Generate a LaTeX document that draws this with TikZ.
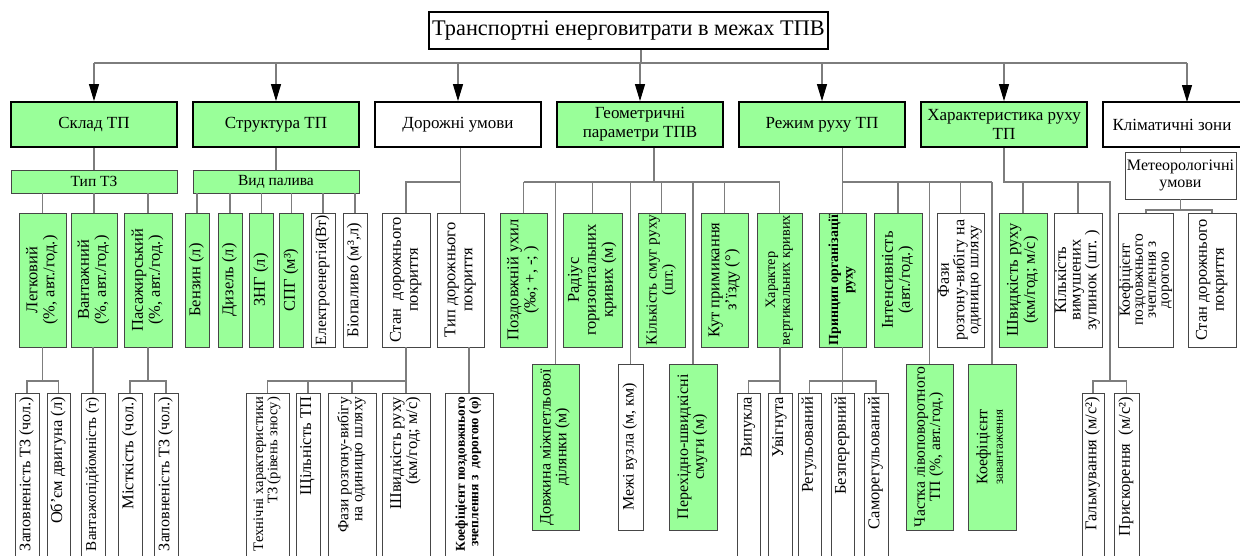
\documentclass[tikz,border=0pt]{standalone}
\usepackage{graphicx}
\usepackage{fontspec}
\setmainfont{Liberation Serif}
\usetikzlibrary{arrows.meta,calc}
\definecolor{gr}{RGB}{153,255,153}
\definecolor{lg}{RGB}{125,125,125}
\definecolor{bd}{RGB}{70,70,70}
\newcommand{\fs}[2]{\fontsize{#1}{#2}\selectfont}
\newsavebox\fitbox
\newcommand{\fitw}[2]{\sbox\fitbox{#2}\ifdim\wd\fitbox>#1\relax\resizebox{#1}{!}{\usebox\fitbox}\else\usebox\fitbox\fi}
\newcommand{\tabc}[1]{\begin{tabular}{@{}c@{}}#1\end{tabular}}
\newcommand{\tabr}[1]{\begin{tabular}{@{}r@{}}#1\end{tabular}}
\newcommand{\Lthree}[1]{\fitw{130pt}{\tabc{#1}}}
\newcommand{\Lfour}[1]{\fitw{160pt}{\tabc{#1}}}
\newcommand{\Lcut}[1]{\makebox[219pt][r]{\fitw{154pt}{\tabr{#1}}}}
\tikzset{
 ln/.style={draw=lg, line width=1.1pt},
 arr/.style={ln, -{Triangle[length=17pt,width=10pt,color=black]}},
 topbox/.style={draw=black, line width=1.8pt, minimum width=166pt, minimum height=45pt, align=center, inner sep=1pt, font=\fs{17}{19}},
 sbox/.style={draw=bd, line width=0.8pt, align=center, inner sep=1pt},
 vt/.style={sbox, rotate=90, font=\fs{16.5}{17}},
 l3/.style={vt, minimum width=134pt},
 l4/.style={vt, minimum width=166pt, font=\fs{16}{15.5}},
 l4c/.style={vt, inner xsep=4pt, font=\fs{16.5}{15.5}},
 g/.style={fill=gr},
 w/.style={fill=white},
}
\begin{document}
\begin{tikzpicture}[x=1pt,y=-1pt]
\useasboundingbox (0,0) rectangle (1240,555);
\clip (0,0) rectangle (1240,555);
\fill[white] (0,0) rectangle (1240,555);
% root
\node[draw=black, line width=1.8pt, minimum width=399pt, minimum height=37pt, inner sep=1pt, font=\fs{22.3}{25}] (root) at (628.5,30.5) {Транспортні енерговитрати в межах ТПВ};
% level 1
\node[topbox,g] (skl) at (94,124.5) {Склад ТП};
\node[topbox,g] (str) at (276,124.5) {Структура ТП};
\node[topbox,w] (dor) at (458,124.5) {Дорожні умови};
\node[topbox,g] (geo) at (640,124.5) {Геометричні\\параметри ТПВ};
\node[topbox,g] (rez) at (822,124.5) {Режим руху ТП};
\node[topbox,g] (har) at (1004,124.5) {Характеристика руху\\ТП};
\node[topbox,w,minimum width=138pt] (klim) at (1172,124.5) {Кліматичні зони};
% level 2
\node[sbox,g,minimum width=166pt,minimum height=23pt,font=\fs{15.5}{17}] (tipz) at (94,181.5) {Тип ТЗ};
\node[sbox,g,minimum width=166pt,minimum height=23pt,font=\fs{15.5}{17}] (vid) at (276,181.5) {Вид палива};
\node[sbox,w,minimum width=111pt,minimum height=47pt,font=\fs{16}{17}] (meteo) at (1180.5,175.5) {Метеорологічні\\умови};
% level 3
\node[l3,g,minimum height=47pt] (legk) at (42.5,280) {\Lthree{Легковий\\(\%, авт./год.)}};
\node[l3,g,minimum height=46pt] (vant) at (94,280) {\Lthree{Вантажний\\(\%, авт./год.)}};
\node[l3,g,minimum height=48pt] (pas) at (148,280) {\Lthree{Пасажирський\\(\%, авт./год.)}};
\node[l3,g,minimum height=24pt] (benz) at (197,280) {\Lthree{Бензин (л)}};
\node[l3,g,minimum height=24pt] (diz) at (230,280) {\Lthree{Дизель (л)}};
\node[l3,g,minimum height=24pt] (zng) at (261.5,280) {\Lthree{ЗНГ (л)}};
\node[l3,g,minimum height=24pt] (spg) at (291.5,280) {\Lthree{СПГ (м³)}};
\node[l3,w,minimum height=24pt] (elek) at (323,280) {\Lthree{Електроенергія(Вт)}};
\node[l3,w,minimum height=24pt] (bio) at (355,280) {\Lthree{Біопаливо (м³,л)}};
\node[l3,w,minimum height=48pt] (stan) at (406,280) {\Lthree{Стан\ \ дорожнього\\покриття}};
\node[l3,w,minimum height=47pt] (tipd) at (460.5,280) {\Lthree{Тип дорожнього\\покриття}};
\node[l3,g,minimum height=47pt] (pozd) at (523.5,280) {\Lthree{Поздовжній ухил\\(‰; +, -; )}};
\node[l3,g,minimum height=59pt] (rad) at (592.5,280) {\Lthree{Радіус\\горизонтальних\\кривих (м)}};
\node[l3,g,minimum height=47pt] (kils) at (661.5,280) {\Lthree{Кількість смуг руху\\(шт.)}};
\node[l3,g,minimum height=47pt] (kut) at (724.5,280) {\Lthree{Кут примикання\\з’їзду (°)}};
\node[l3,g,minimum height=45pt] (hark) at (779.5,280) {\Lthree{Характер\\вертикальних кривих}};
\node[l3,g,minimum height=47pt,font=\bfseries\fs{16.5}{17}] (princ) at (842.5,280) {\Lthree{Принцип організації\\руху}};
\node[l3,g,minimum height=48pt] (intens) at (898,280) {\Lthree{Інтенсивність\\(авт./год.)}};
\node[l3,w,minimum height=47pt,font=\fs{16}{14}] (fazy) at (960.5,280) {\Lthree{Фази\\розгону-вибігу на\\одиницю шляху}};
\node[l3,g,minimum height=48pt] (shv) at (1023,280) {\Lthree{Швидкість руху\\(км/год; м/с)}};
\node[l3,w,minimum height=48pt,font=\fs{16.5}{14.5}] (kilv) at (1078,280) {\Lthree{Кількість\\вимушених\\зупинок (шт. )}};
\node[l3,w,minimum height=52pt,font=\fs{15.5}{13}] (koef) at (1146,280) {\Lthree{Коефіцієнт\\поздовжнього\\зчеплення з\\дорогою}};
\node[l3,w,minimum height=48pt] (stanr) at (1212,280) {\Lthree{Стан дорожнього\\покриття}};
% level 4 (cut at bottom)
\node[l4c,w,minimum height=24pt] (zap1) at (27,506.5) {\Lcut{Заповненість ТЗ (чол.)}};
\node[l4c,w,minimum height=23pt] (obm) at (58.5,506.5) {\Lcut{Об’єм двигуна (л)}};
\node[l4c,w,minimum height=24pt] (vpid) at (93,506.5) {\Lcut{Вантажопідйомність (т)}};
\node[l4c,w,minimum height=24pt] (mist) at (130,506.5) {\Lcut{Місткість (чол.)}};
\node[l4c,w,minimum height=24pt] (zap2) at (166,506.5) {\Lcut{Заповненість ТЗ (чол.)}};
\node[l4c,w,minimum height=43pt,font=\fs{15.5}{15}] (tekh) at (267.5,506.5) {\Lcut{Технічні характеристики\\ТЗ (рівень зносу)}};
\node[l4c,w,minimum height=24pt] (shch) at (308,506.5) {\Lcut{Щільність ТП}};
\node[l4c,w,minimum height=48pt,font=\fs{15.5}{14}] (fazr) at (352,506.5) {\Lcut{Фази розгону-вибігу\\на одиницю шляху}};
\node[l4c,w,minimum height=48pt] (shvr) at (406,506.5) {\Lcut{Швидкість руху\\(км/год; м/с)}};
\node[l4c,w,minimum height=48pt,font=\bfseries\fs{15}{15}] (koefphi) at (469,506.5) {\Lcut{Коефіцієнт поздовжнього\\зчеплення з\ \ дорогою (φ)}};
\node[l4c,w,minimum height=23pt] (vyp) at (748.5,506.5) {\Lcut{Випукла}};
\node[l4c,w,minimum height=24pt] (uvig) at (780,506.5) {\Lcut{Увігнута}};
\node[l4c,w,minimum height=23pt] (reg) at (809.5,506.5) {\Lcut{Регульований}};
\node[l4c,w,minimum height=23pt] (bezp) at (842.5,506.5) {\Lcut{Безперервний}};
\node[l4c,w,minimum height=24pt] (samo) at (876,506.5) {\Lcut{Саморегульований}};
\node[l4c,w,minimum height=22pt] (galm) at (1093,506.5) {\Lcut{Гальмування (м/с²)}};
\node[l4c,w,minimum height=25pt] (prysk) at (1126.5,506.5) {\Lcut{Прискорення\ \ (м/с²)}};
% level 4 (full)
\node[l4,g,minimum height=47pt] (dovzh) at (555.5,447) {\Lfour{Довжина міжпетльової\\ділянки (м)}};
\node[l4,w,minimum height=25pt] (mezhi) at (630.5,447) {\Lfour{Межі вузла (м, км)}};
\node[l4,g,minimum height=48pt] (pereh) at (693,447) {\Lfour{Перехідно-швидкісні\\смуги (м)}};
\node[l4,g,minimum height=47pt] (chastka) at (929.5,447) {\Lfour{Частка лівоповоротного\\ТП (\%, авт./год.)}};
\node[l4,g,minimum height=48pt] (koefz) at (992,447) {\Lfour{Коефіцієнт\\{\fs{13}{13}завантаження}}};
% bus coordinates
\coordinate (busT) at (641,63);
\coordinate (klimin) at (1187,102);
\coordinate (yb1) at (0,182);
\coordinate (yb2) at (0,381);
\coordinate (yb3) at (0,210);
\coordinate (gp) at (1110,381);
% root connectors
\draw[ln] (root.south -| busT) -- (busT);
\draw[ln] (busT -| skl.north) -- (busT -| klimin);
\foreach \n in {skl,str,dor,geo,rez,har} \draw[arr] (busT -| \n.north) -- (\n.north);
\draw[arr] (busT -| klimin) -- (klimin);
% Склад
\draw[ln] (skl.south) -- (tipz.north);
\foreach \n in {legk,vant,pas} \draw[ln] (\n.east |- tipz.south) -- (\n.east);
% Структура
\draw[ln] (str.south) -- (vid.north);
\foreach \n in {benz,diz,zng,spg,elek,bio} \draw[ln] (\n.east |- vid.south) -- (\n.east);
% Дорожні
\draw[ln] (dor.south -| tipd.east) -- (tipd.east);
\draw[ln] (tipd.east |- yb1) -| (stan.east);
% Геометричні
\draw[ln] ([xshift=14pt]geo.south) -- ([xshift=14pt]geo.south |- yb1);
\draw[ln] (pozd.east |- yb1) -- (hark.east |- yb1);
\foreach \n in {pozd,rad,kils,kut,hark,dovzh,mezhi,pereh} \draw[ln] (\n.east |- yb1) -- (\n.east);
% Режим
\draw[ln] (princ.east |- rez.south) -- (princ.east |- yb1);
\draw[ln] (princ.east |- yb1) -- (koefz.east |- yb1);
\foreach \n in {princ,intens,chastka,fazy,koefz} \draw[ln] (\n.east |- yb1) -- (\n.east);
% Характеристика
\draw[ln] (har.south) -- (har.south |- yb1) -- (gp |- yb1) -- (gp);
\foreach \n in {shv,kilv} \draw[ln] (\n.east |- yb1) -- (\n.east);
\draw[ln] (galm.east) |- (prysk.east |- gp) -- (prysk.east);
% Кліматичні
\draw[ln] (klim.south -| meteo.north) -- (meteo.north);
\draw[ln] (meteo.south) -- (meteo.south |- yb3);
\draw[ln] (koef.east) |- (stanr.east |- yb3) -- (stanr.east);
% level 3 -> level 4
\draw[ln] (legk.west) -- (legk.west |- yb2);
\draw[ln] (zap1.east) |- (obm.east |- yb2) -- (obm.east);
\draw[ln] (vpid.east |- vant.west) -- (vpid.east);
\draw[ln] (pas.west) -- (pas.west |- yb2);
\draw[ln] (mist.east) |- (zap2.east |- yb2) -- (zap2.east);
\draw[ln] (stan.west) -- (shvr.east);
\draw[ln] (tekh.east) |- (stan.west |- yb2);
\foreach \n in {shch,fazr} \draw[ln] (\n.east |- yb2) -- (\n.east);
\draw[ln] (koefphi.east |- tipd.west) -- (koefphi.east);
\draw[ln] (uvig.east |- hark.west) -- (uvig.east);
\draw[ln] (vyp.east) |- (uvig.east |- yb2);
\draw[ln] (bezp.east |- princ.west) -- (bezp.east);
\draw[ln] (reg.east) |- (samo.east |- yb2) -- (samo.east);
\end{tikzpicture}
\end{document}
